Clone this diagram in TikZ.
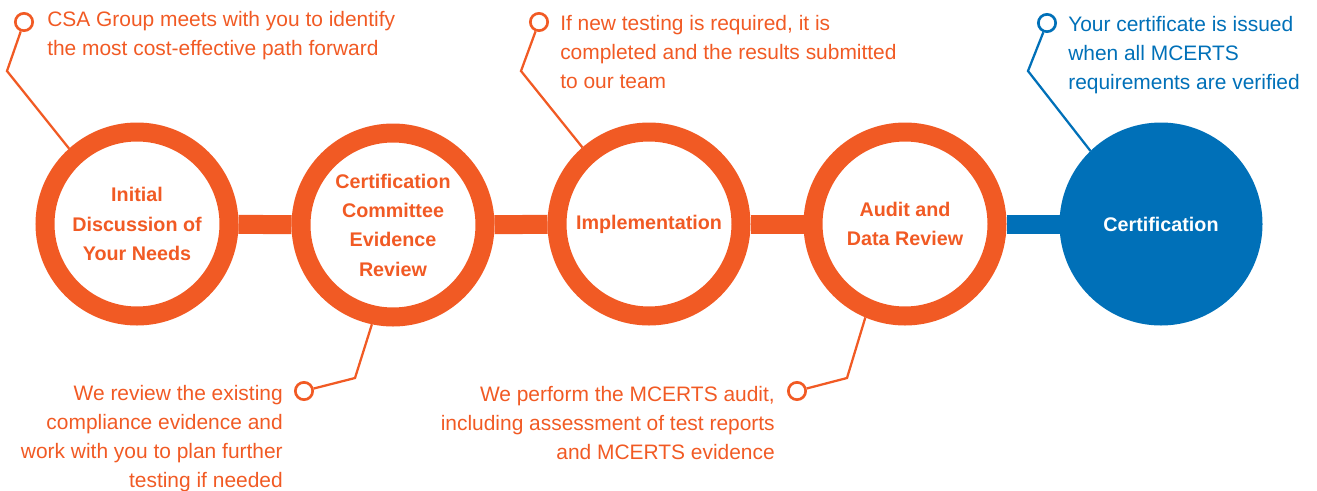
\documentclass[tikz,border=0pt]{standalone}
\usepackage{fontspec}
\setmainfont{Liberation Sans}
\definecolor{csaorange}{HTML}{F15A24}
\definecolor{csablue}{HTML}{0070B8}
\tikzstyle{stage}=[circle, draw=csaorange, line width=14.25pt, minimum size=138pt,
	inner sep=0pt, align=center, text=csaorange,
	font=\bfseries\fontsize{14.8}{22}\selectfont]
\tikzstyle{final}=[stage, draw=csablue, fill=csablue, text=white]
\tikzstyle{link}=[line width=14.25pt, csaorange]
\tikzstyle{dot}=[circle, draw=csaorange, line width=2pt, minimum size=13pt,
	inner sep=0pt, fill=white]
\tikzstyle{lead}=[line width=1.7pt, csaorange]
\tikzstyle{note}=[text=csaorange, inner sep=0pt, font=\fontsize{15.7}{21.75}\selectfont]

\begin{document}
\begin{tikzpicture}[x=0.75pt, y=-0.75pt]
	\useasboundingbox (0,0) rectangle (1317,490);

	% Steps
	\node[stage] (s1) at (137,224) {Initial\\Discussion of\\Your Needs};
	\node[stage] (s2) at (393,225) {Certification\\Committee\\Evidence\\Review};
	\node[stage] (s3) at (649,224) {Implementation};
	\node[stage] (s4) at (905,224) {Audit and\\Data Review};
	\node[final] (s5) at (1161,224) {Certification};

	% Links
	\foreach \a/\b in {s1/s2,s2/s3,s3/s4} {
		\draw[link] (\a) -- (\b);
	}
	\draw[link, csablue] (s4) -- (s5);

	% Notes (base = last line)
	\node[note, anchor=base west, align=left] (n1) at (47,55)
		{CSA Group meets with you to identify\\the most cost-effective path forward};
	\node[note, anchor=base east, align=right] (n2) at (283,487)
		{We review the existing\\compliance evidence and\\work with you to plan further\\testing if needed};
	\node[note, anchor=base west, align=left] (n3) at (560,88)
		{If new testing is required, it is\\completed and the results submitted\\to our team};
	\node[note, anchor=base east, align=right] (n4) at (775,459)
		{We perform the MCERTS audit,\\including assessment of test reports\\and MCERTS evidence};
	\node[note, anchor=base west, align=left, text=csablue] (n5) at (1068,89)
		{Your certificate is issued\\when all MCERTS\\requirements are verified};

	% Leads
	\coordinate (b1) at (7,71);
	\coordinate (b2) at (355,378);
	\coordinate (b3) at (521,71);
	\coordinate (b4) at (847,378);
	\coordinate (b5) at (1028,71);
	\node[dot] (d1) at (24,22) {};
	\node[dot] (d2) at (304,391) {};
	\node[dot] (d3) at (539,22) {};
	\node[dot] (d4) at (797,391) {};
	\node[dot, draw=csablue] (d5) at (1047,23) {};
	\draw[lead] (d1) -- (b1) -- (s1.132);
	\draw[lead] (d2) -- (b2) -- (s2.258);
	\draw[lead] (d3) -- (b3) -- (s3.131);
	\draw[lead] (d4) -- (b4) -- (s4.247);
	\draw[lead, csablue] (d5) -- (b5) -- (s5.134);

\end{tikzpicture}
\end{document}
